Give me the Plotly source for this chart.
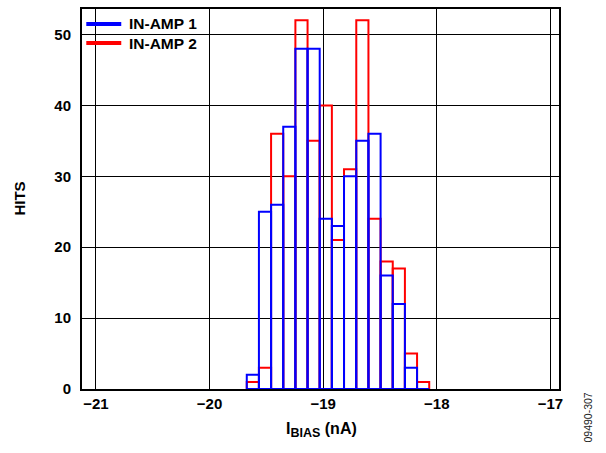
import plotly.graph_objects as go

# Histogram bins (nA): centres and common width
bin_centers = [-19.619, -19.512, -19.405, -19.298, -19.191, -19.084, -18.977,
               -18.870, -18.763, -18.655, -18.548, -18.441, -18.334, -18.227, -18.120]
bin_width = 0.1071

hits_amp1 = [2, 25, 26, 37, 48, 48, 24, 23, 30, 35, 36, 16, 12, 3, 0]
hits_amp2 = [1, 3, 36, 30, 52, 35, 40, 21, 31, 52, 24, 18, 17, 5, 1]

series_names = ["IN-AMP 1", "IN-AMP 2"]
series_colors = ["#0000FF", "#FF0000"]

x_ticks = [-21, -20, -19, -18, -17]
y_ticks = [0, 10, 20, 30, 40, 50]

FONT = "Liberation Sans, Arial, sans-serif"

fig = go.Figure()

# red first, blue drawn on top
for vals, name, col in [(hits_amp2, series_names[1], series_colors[1]),
                        (hits_amp1, series_names[0], series_colors[0])]:
    fig.add_trace(go.Bar(
        x=bin_centers, y=vals, width=bin_width, name=name,
        marker=dict(color="rgba(0,0,0,0)", line=dict(color=col, width=2)),
        showlegend=False, hoverinfo="x+y+name",
    ))

# legend box (white, hides gridlines behind it) with line samples
shapes = [dict(type="rect", xref="paper", yref="paper",
               x0=0.003, x1=0.254, y0=0.879, y1=0.997,
               fillcolor="white", line=dict(width=0), layer="between")]
annotations = []
legend_rows_y = [0.9608, 0.9103]
for name, col, ry in zip(series_names, series_colors, legend_rows_y):
    shapes.append(dict(type="line", xref="paper", yref="paper",
                       x0=0.009, x1=0.0823, y0=ry, y1=ry,
                       line=dict(color=col, width=4), layer="above"))
    annotations.append(dict(text=name, xref="paper", yref="paper",
                            x=0.0948, y=ry, xanchor="left", yanchor="middle",
                            showarrow=False,
                            font=dict(family=FONT, size=15.5, weight="bold")))

annotations += [
    dict(text="HITS", xref="paper", yref="paper", x=-0.133, y=0.5,
         xanchor="center", yanchor="middle",
         textangle=-90, showarrow=False,
         font=dict(family=FONT, size=15, weight="bold")),
    dict(text="I<sub><span style='font-size:12.5px'>BIAS</span></sub> (nA)",
         xref="paper", yref="paper",
         x=0.503, y=-0.108, showarrow=False, xanchor="center", yanchor="middle",
         font=dict(family=FONT, size=16, weight="bold")),
    dict(text="09490-307", xref="paper", yref="paper", x=1.06, y=-0.076,
         xanchor="center", yanchor="middle",
         textangle=-90, showarrow=False,
         font=dict(family=FONT, size=10.5, color="#222")),
]

fig.update_layout(
    width=606, height=453,
    margin=dict(l=82, r=47, t=7, b=64),
    paper_bgcolor="white", plot_bgcolor="white",
    barmode="overlay", showlegend=False,
    font=dict(family=FONT, color="black"),
    xaxis=dict(range=[-21.123, -16.924], tickvals=x_ticks,
               showgrid=True, gridcolor="black", gridwidth=1,
               showline=True, linecolor="black", linewidth=2, mirror=True,
               ticks="", zeroline=False,
               tickfont=dict(family=FONT, size=15, weight="bold")),
    yaxis=dict(range=[0, 53.6], tickvals=y_ticks,
               showgrid=True, gridcolor="black", gridwidth=1,
               showline=True, linecolor="black", linewidth=2, mirror=True,
               ticks="", zeroline=False, ticklabelstandoff=6,
               tickfont=dict(family=FONT, size=15, weight="bold")),
    shapes=shapes,
    annotations=annotations,
)

fig.write_html("out.html", config={"displayModeBar": False},
               post_script="document.body.style.margin='0';")
